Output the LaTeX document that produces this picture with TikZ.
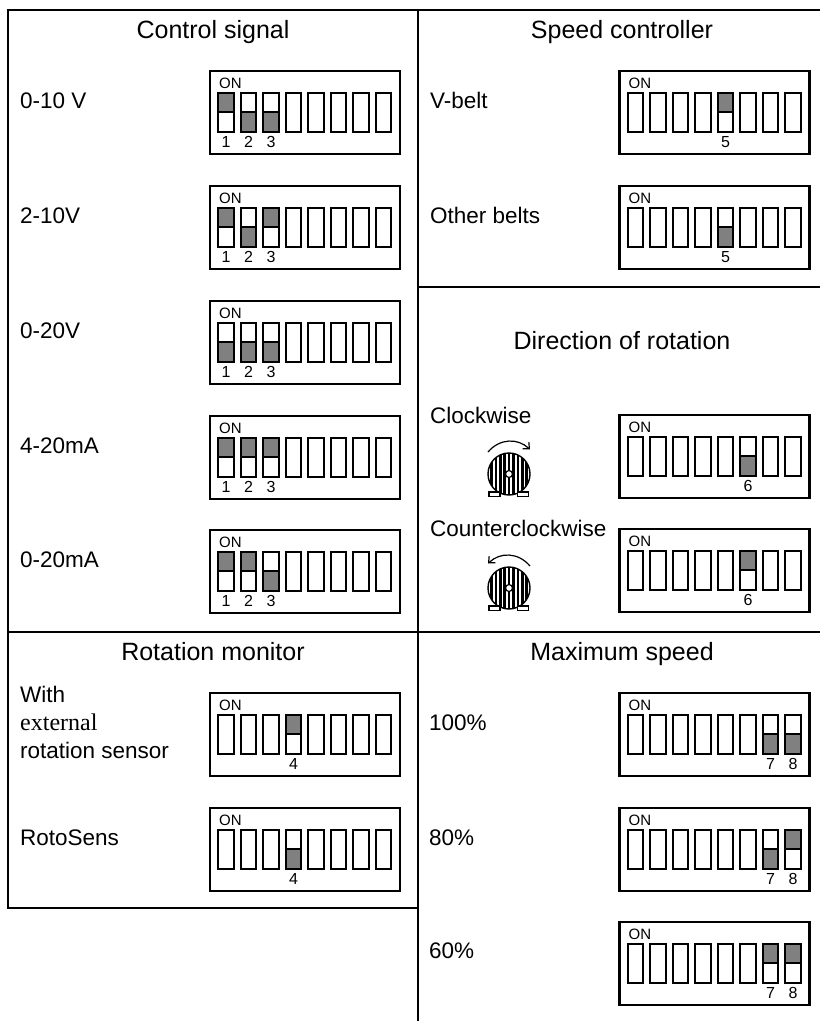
\documentclass[tikz,border=0pt]{standalone}
\usepackage{fontspec}
\setmainfont{Liberation Sans}
\newfontfamily\extserif{Liberation Serif}
\usetikzlibrary{arrows.meta}
\definecolor{swgray}{RGB}{128,128,128}
\tikzset{
  frameline/.style={line width=2.2pt},
  boxline/.style={line width=2.2pt},
  swline/.style={line width=2pt},
  ttl/.style={font=\fontsize{25}{30}\selectfont, anchor=base, inner sep=0pt},
  lbl/.style={font=\fontsize{22.5}{28}\selectfont, anchor=base west, inner sep=0pt},
  ontxt/.style={font=\fontsize{15}{16}\selectfont, anchor=base west, inner sep=0pt},
  numtxt/.style={font=\fontsize{16}{18}\selectfont, anchor=base, inner sep=0pt},
  arrline/.style={line width=1.2pt, -{Straight Barb[length=5pt,width=9pt]}},
}
\newcommand\DipBox[4]{%
  \draw[boxline] (#2,#3) rectangle ++(190,83);
  \node[ontxt] (#1-on) at ({#2+9},{#3+17}) {ON};
  \foreach \k in {1,...,8} \draw[swline] ({#2+8.3+(\k-1)*22.5},{#3+21.5}) rectangle ++(15.3,39);
  \foreach \k/\s in {#4} {
    \fill[swgray] ({#2+8.3+(\k-1)*22.5},{#3+21.5+\s*19.5}) rectangle ++(15.3,19.5);
    \draw[swline] ({#2+8.3+(\k-1)*22.5},{#3+41}) -- ++(15.3,0);
    \draw[swline] ({#2+8.3+(\k-1)*22.5},{#3+21.5}) rectangle ++(15.3,39);
    \node[numtxt] (#1-n\k) at ({#2+16+(\k-1)*22.5},{#3+76.5}) {\k};
  }
}
\newcommand\Motor[4]{%
  \coordinate (#1) at (#2,#3);
  \begin{scope}
    \clip (#1) circle (21);
    \foreach \j in {-5,...,5} \fill ({#2+\j*4.4-1.3},{#3-22}) rectangle ++(2.6,44);
  \end{scope}
  \draw[line width=1.4pt] (#1) circle (21);
  \filldraw[fill=white, line width=1.2pt] (#1) circle (3.5);
  \filldraw[fill=white, line width=1.3pt] ({#2-20},{#3+18}) rectangle ++(11,4.5);
  \filldraw[fill=white, line width=1.3pt] ({#2+8.5},{#3+18}) rectangle ++(11,4.5);
  \draw[arrline] ({#2-#4*21},{#3-22}) .. controls ({#2-#4*9},{#3-36}) and ({#2+#4*9},{#3-36}) .. ({#2+#4*21},{#3-24.5});
}
\begin{document}
\begin{tikzpicture}[x=1pt,y=-1pt]
\useasboundingbox (0,0) rectangle (820,1021);
\clip (0,0) rectangle (820,1021);
% frame
\draw[frameline] (418,908) -- (8,908) -- (8,10) -- (830,10);
\draw[frameline] (418,10) -- (418,1030);
\draw[frameline] (8,632) -- (830,632);
\draw[frameline] (418,287) -- (830,287);
% titles
\node[ttl] (tcs) at (213,38) {Control signal};
\node[ttl] (tsc) at (622,38) {Speed controller};
\node[ttl] (tdr) at (622,349) {Direction of rotation};
\node[ttl] (trm) at (213,660) {Rotation monitor};
\node[ttl] (tms) at (622,660) {Maximum speed};
% control signal
\node[lbl] (l1) at (20,108) {0-10 V};
\node[lbl] (l2) at (20,223) {2-10V};
\node[lbl] (l3) at (20,338) {0-20V};
\node[lbl] (l4) at (20,453) {4-20mA};
\node[lbl] (l5) at (20,567) {0-20mA};
\DipBox{cs1}{210}{71}{1/0,2/1,3/1}
\DipBox{cs2}{210}{186}{1/0,2/1,3/0}
\DipBox{cs3}{210}{301}{1/1,2/1,3/1}
\DipBox{cs4}{210}{416}{1/0,2/0,3/0}
\DipBox{cs5}{210}{530}{1/0,2/0,3/1}
% speed controller
\node[lbl] (l6) at (430,108) {V-belt};
\node[lbl] (l7) at (430,223) {Other belts};
\DipBox{sc1}{619.5}{71}{5/0}
\DipBox{sc2}{619.5}{186}{5/1}
% direction
\node[lbl] (l8) at (430,423) {Clockwise};
\node[lbl] (l9) at (430,536) {Counterclockwise};
\Motor{mcw}{509}{474}{1}
\Motor{mccw}{509}{588}{-1}
\DipBox{dr1}{619.5}{415}{6/1}
\DipBox{dr2}{619.5}{529}{6/0}
% rotation monitor
\node[lbl] (l10) at (20,702) {With};
\node[lbl, font=\extserif\fontsize{24}{28}\selectfont] (l11) at (20,730) {external};
\node[lbl] (l12) at (20,758) {rotation sensor};
\node[lbl] (l13) at (20,845) {RotoSens};
\DipBox{rm1}{210}{693}{4/0}
\DipBox{rm2}{210}{808}{4/1}
% maximum speed
\node[lbl] (l14) at (429,730) {100\%};
\node[lbl] (l15) at (429,845) {80\%};
\node[lbl] (l16) at (429,958) {60\%};
\DipBox{ms1}{619.5}{693}{7/1,8/1}
\DipBox{ms2}{619.5}{808}{7/1,8/0}
\DipBox{ms3}{619.5}{922}{7/0,8/0}
\end{tikzpicture}
\end{document}
